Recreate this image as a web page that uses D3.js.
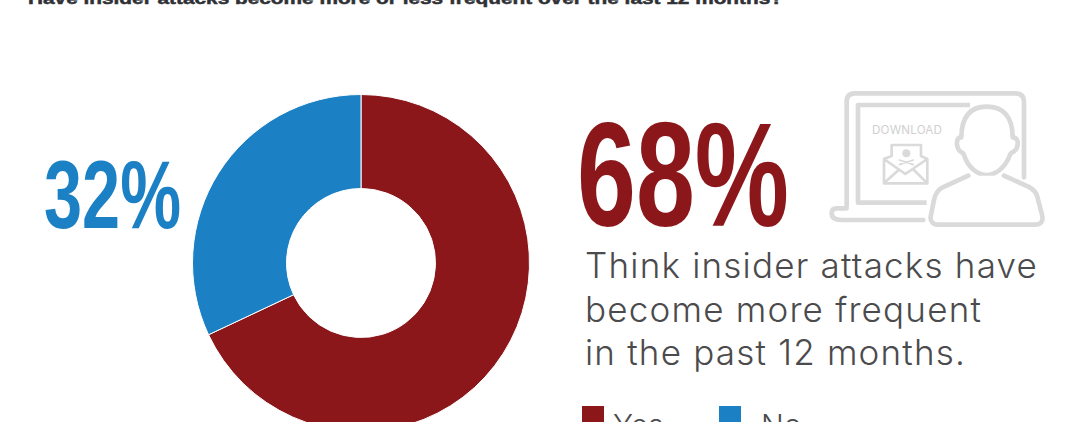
<!DOCTYPE html>
<html>
<head>
<meta charset="utf-8">
<script src="https://cdn.jsdelivr.net/npm/d3@7"></script>
<style>
html,body{margin:0;padding:0;background:#fff;overflow:hidden}
svg{display:block}
</style>
</head>
<body>
<svg id="chart" width="1070" height="422"></svg>
<script>
const categories = ["Yes", "No"];
const values = [68, 32];
const colors = ["#8c171b", "#1b80c4"];
const headline = "Have insider attacks become more or less frequent over the last 12 months?";
const captionLines = ["Think insider attacks have", "become more frequent", "in the past 12 months."];

const svg = d3.select("#chart");
const cx = 361, cy = 263, outerR = 168.5, innerR = 74.5;

// Cropped survey question along the top edge
svg.append("text").attr("x", 28).attr("y", 3.5)
  .attr("font-family", "Liberation Sans").attr("font-weight", 700).attr("font-size", 17)
  .attr("textLength", 755).attr("lengthAdjust", "spacingAndGlyphs")
  .attr("fill", "#2f3136").attr("stroke", "#2f3136").attr("stroke-width", 0.5).text(headline);

// Donut, clockwise from twelve o'clock
const pie = d3.pie().sort(null).value(d => d);
const arc = d3.arc().innerRadius(innerR).outerRadius(outerR);
svg.append("g").attr("transform", `translate(${cx},${cy})`)
  .selectAll("path").data(pie(values)).join("path")
  .attr("d", arc).attr("fill", (d, i) => colors[i])
  .attr("stroke", "#fff").attr("stroke-width", 1);

// Large condensed percentages
function bigNumber(text, x, baseline, width, size, fill) {
  svg.append("text").attr("x", x).attr("y", baseline)
    .attr("font-family", "Liberation Sans Narrow, Liberation Sans")
    .attr("font-weight", 700)
    .attr("font-size", size).attr("fill", fill)
    .attr("textLength", width).attr("lengthAdjust", "spacingAndGlyphs")
    .text(text);
}
bigNumber(`${values[1]}%`, 44, 228, 137, 96, colors[1]);
bigNumber(`${values[0]}%`, 577, 226, 212, 148, colors[0]);

// Caption
svg.append("g").selectAll("text").data(captionLines).join("text")
  .attr("x", 585).attr("y", (d, i) => 278 + i * 43.5)
  .attr("font-family", "Inter").attr("font-size", 35).attr("font-weight", 300)
  .attr("letter-spacing", 1.2)
  .attr("fill", "#4b4b4d").text(d => d);

// Legend, clipped by the bottom edge
const legendX = [582, 719], legendTextX = [613, 761];
const legend = svg.append("g").selectAll("g").data(categories).join("g");
legend.append("rect").attr("x", (d, i) => legendX[i]).attr("y", 406)
  .attr("width", 22).attr("height", 22).attr("fill", (d, i) => colors[i]);
legend.append("text").attr("x", (d, i) => legendTextX[i]).attr("y", 436)
  .attr("font-family", "Inter").attr("font-size", 30).attr("font-weight", 300)
  .attr("fill", "#4b4b4d").text(d => d);

// Laptop and user icon
const line = "#dadada";
const icon = svg.append("g").attr("transform", "translate(820,80) scale(0.3333)")
  .attr("fill", "none").attr("stroke", line).attr("stroke-linejoin", "round").attr("stroke-linecap", "round");
const thick = 14;
icon.append("path").attr("stroke-width", thick)
  .attr("d", "M80 378V65Q80 40 105 40H585Q612 40 612 65V292");
icon.append("path").attr("stroke-width", thick)
  .attr("d", "M80 385H50Q35 385 35 400Q35 420 65 420H310");
icon.append("path").attr("stroke-width", thick).attr("stroke-linecap", "butt")
  .attr("d", "M450 75H114V368H320");
icon.append("path").attr("stroke-width", thick).attr("fill", "#fff")
  .attr("d", "M500 80C450 80 425 110 424 172C410 172 408 190 414 205C420 220 430 215 432 225C445 265 475 285 500 285C525 285 555 265 570 225C572 215 582 220 590 205C596 190 594 172 578 172C578 110 550 80 500 80Z");
icon.append("path").attr("stroke-width", thick).attr("fill", "#fff")
  .attr("d", "M445 287L368 322C350 332 345 345 342 360L332 410C330 425 340 434 355 434H645C662 434 670 425 667 408L652 350C648 335 640 328 625 320L552 287");
icon.append("text").attr("x", 156).attr("y", 163)
  .attr("font-family", "Inter").attr("font-size", 35).attr("letter-spacing", 0.5)
  .attr("fill", "#d0d0d0").attr("stroke", "none").text("DOWNLOAD");
// Envelope with skull and crossbones
icon.append("path").attr("stroke-width", 8)
  .attr("d", "M215 228V195H303V228M215 228L192 237V310H322V237L303 228M192 237L256 282L322 237M198 304L236 270M316 304L282 270");
icon.append("circle").attr("cx", 259).attr("cy", 220).attr("r", 12).attr("fill", line).attr("stroke", "none");
icon.append("path").attr("stroke-width", 5)
  .attr("d", "M238 240L280 254M280 240L238 254");
</script>
</body>
</html>
